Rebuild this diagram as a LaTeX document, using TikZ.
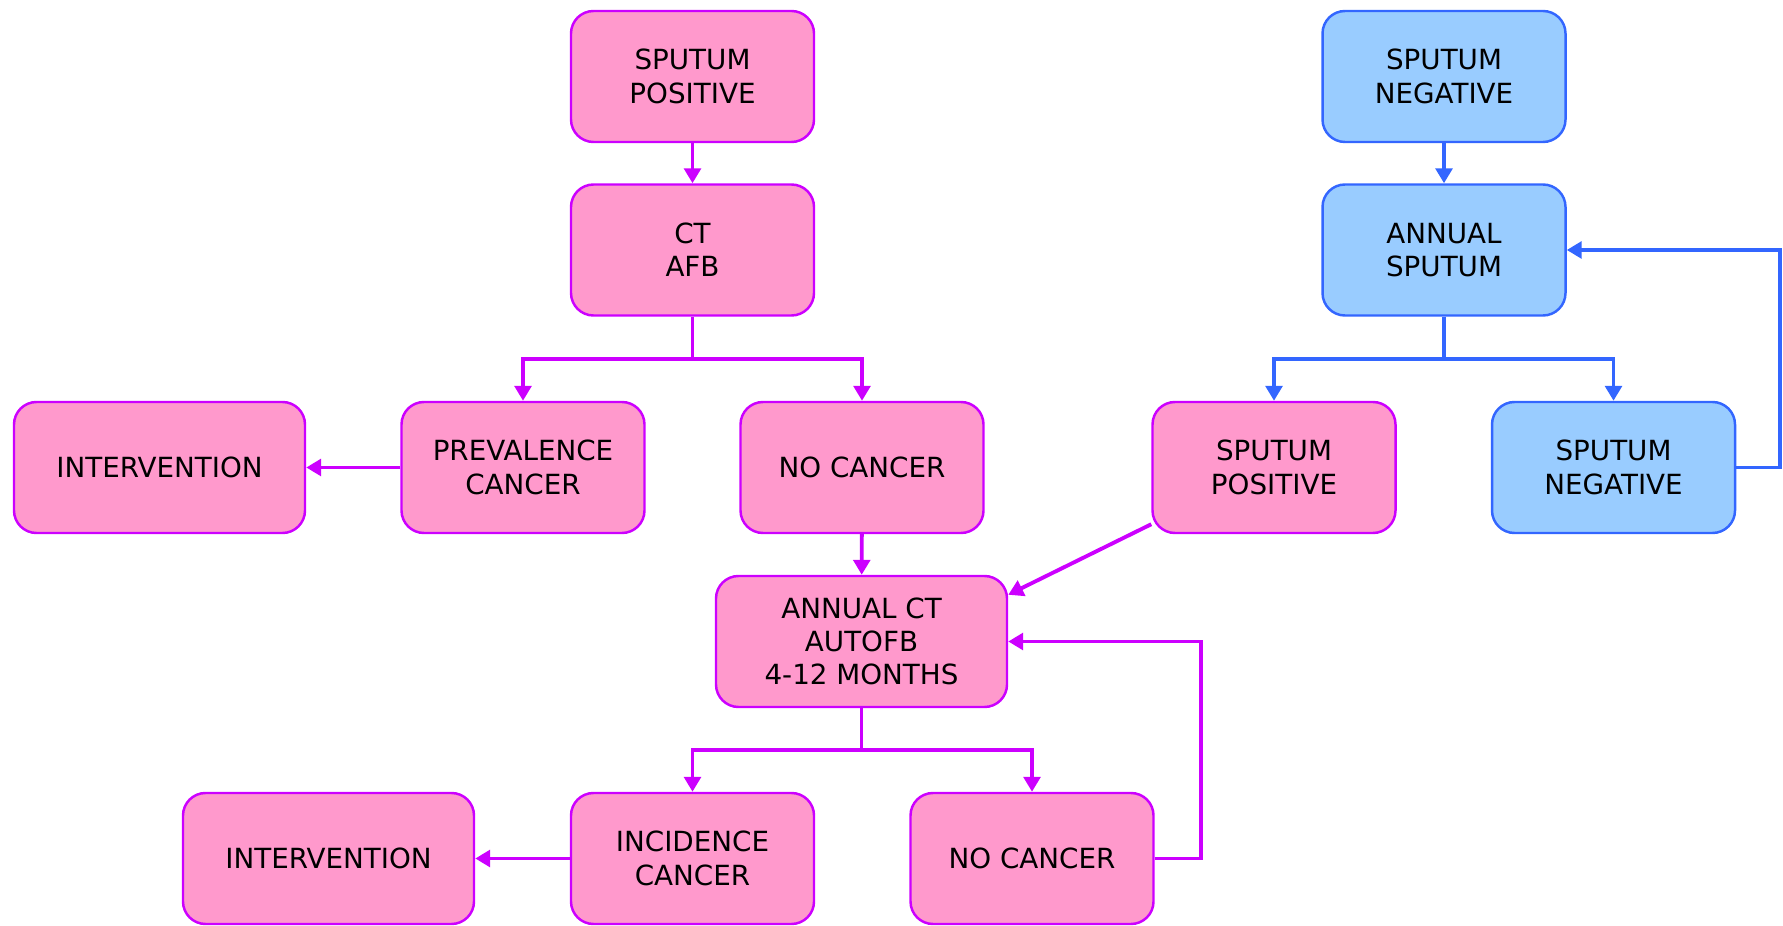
\documentclass[tikz,border=0pt]{standalone}
\usepackage{fontspec}
\setmainfont{DejaVu Sans}
\usetikzlibrary{arrows.meta}
\definecolor{boxpink}{HTML}{FF99CC}
\definecolor{linepink}{HTML}{CC00FF}
\definecolor{boxblue}{HTML}{99CCFF}
\definecolor{lineblue}{HTML}{3366FF}
\tikzset{
  pinkbox/.style={draw=linepink, fill=boxpink, line width=1.4pt, rounded corners=0.45cm,
    minimum width=4.86cm, minimum height=2.62cm, align=center, font=\fontsize{15.8}{19}\selectfont},
  bluebox/.style={pinkbox, draw=lineblue, fill=boxblue},
  widebox/.style={minimum width=5.82cm},
  pinkline/.style={draw=linepink, line width=2.2pt, -{Triangle[length=8.5pt,width=9.5pt]}},
  blueline/.style={pinkline, draw=lineblue}
}
\begin{document}
\begin{tikzpicture}
                \useasboundingbox (0,0) rectangle (35.66,18.5);

                % left column
                \node[pinkbox] (sp1) at (13.85,16.97) {SPUTUM\\POSITIVE};
                \node[pinkbox] (ct) at (13.85,13.5) {CT\\AFB};
                \node[pinkbox, widebox] (int1) at (3.19,9.15) {INTERVENTION};
                \node[pinkbox] (prev) at (10.46,9.15) {PREVALENCE\\CANCER};
                \node[pinkbox] (noc1) at (17.24,9.15) {NO CANCER};
                \node[pinkbox, widebox] (act) at (17.23,5.67) {ANNUAL CT\\AUTOFB\\4-12 MONTHS};
                \node[pinkbox, widebox] (int2) at (6.57,1.33) {INTERVENTION};
                \node[pinkbox] (inc) at (13.85,1.33) {INCIDENCE\\CANCER};
                \node[pinkbox] (noc2) at (20.64,1.33) {NO CANCER};

                % right column
                \node[bluebox] (sn1) at (28.88,16.97) {SPUTUM\\NEGATIVE};
                \node[bluebox] (asp) at (28.88,13.5) {ANNUAL\\SPUTUM};
                \node[pinkbox] (sp2) at (25.48,9.15) {SPUTUM\\POSITIVE};
                \node[bluebox] (sn2) at (32.27,9.15) {SPUTUM\\NEGATIVE};

                \coordinate (ctsplit) at (13.85,11.32);
                \coordinate (aspsplit) at (28.88,11.32);
                \coordinate (actsplit) at (17.23,3.5);
                \coordinate (bluebend) at (35.6,9.15);
                \coordinate (pinkbend) at (24.02,1.33);

                \draw[pinkline] (sp1) -- (ct);
                \draw[pinkline] (ct.south) -- (ctsplit) -| (prev.north);
                \draw[pinkline] (ctsplit) -| (noc1.north);
                \draw[pinkline] (prev) -- (int1);
                \draw[pinkline] (noc1) -- (act);
                \draw[pinkline] ([yshift=0.2cm]sp2.south west) -- ([yshift=-0.4cm]act.north east);
                \draw[pinkline] (act.south) -- (actsplit) -| (inc.north);
                \draw[pinkline] (actsplit) -| (noc2.north);
                \draw[pinkline] (inc) -- (int2);
                \draw[pinkline] (noc2.east) -- (pinkbend) |- (act.east);

                \draw[blueline] (sn1) -- (asp);
                \draw[blueline] (asp.south) -- (aspsplit) -| (sp2.north);
                \draw[blueline] (aspsplit) -| (sn2.north);
                \draw[blueline] (sn2.east) -- (bluebend) |- (asp.east);
            \end{tikzpicture}
\end{document}
